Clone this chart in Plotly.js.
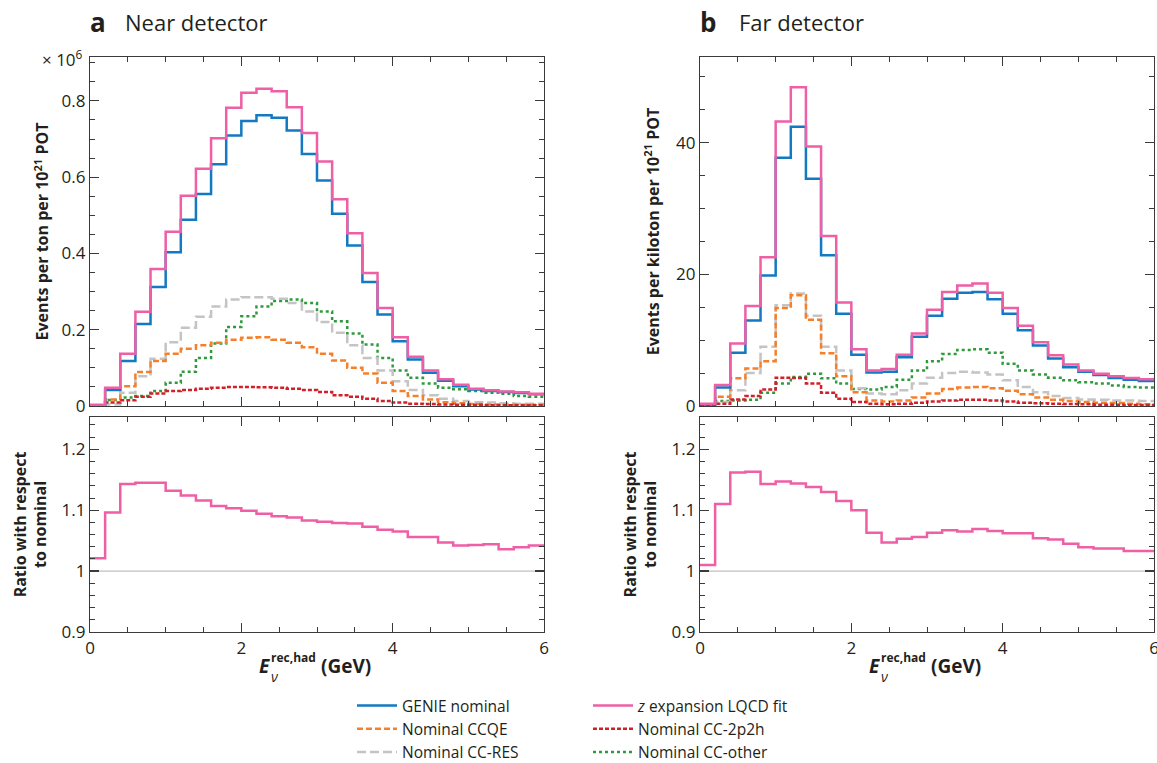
<!DOCTYPE html>
<html>
<head>
<meta charset="utf-8">
<script src="https://cdn.plot.ly/plotly-3.0.1.min.js"></script>
<style>html,body{margin:0;padding:0;background:#fff;}#chart{width:1157px;height:763px;}</style>
</head>
<body>
<div id="chart"></div>
<script>
// Bin lower edges (GeV), 0.2 GeV bins from 0 to 6
const binLow = [0.0,0.2,0.4,0.6,0.8,1.0,1.2,1.4,1.6,1.8,2.0,2.2,2.4,2.6,2.8,3.0,3.2,3.4,3.6,3.8,4.0,4.2,4.4,4.6,4.8,5.0,5.2,5.4,5.6,5.8];
const binHigh = 6.0;

// Near detector (events per ton per 1e21 POT, x 1e6)
const nearGenie = [0.002,0.042,0.118,0.215,0.312,0.403,0.488,0.556,0.634,0.709,0.747,0.762,0.756,0.722,0.661,0.591,0.504,0.421,0.325,0.240,0.170,0.122,0.087,0.066,0.052,0.043,0.039,0.037,0.034,0.031];
const nearZexp  = [0.003,0.048,0.137,0.247,0.359,0.457,0.551,0.622,0.702,0.782,0.821,0.832,0.825,0.783,0.716,0.641,0.542,0.453,0.349,0.257,0.180,0.129,0.093,0.070,0.056,0.045,0.041,0.038,0.036,0.032];
const nearCCQE  = [0.000,0.017,0.052,0.089,0.118,0.137,0.150,0.159,0.166,0.174,0.179,0.180,0.174,0.166,0.154,0.137,0.119,0.100,0.085,0.061,0.039,0.026,0.017,0.010,0.007,0.005,0.004,0.003,0.003,0.003];
const near2p2h  = [0.000,0.009,0.015,0.024,0.033,0.039,0.042,0.045,0.048,0.050,0.050,0.049,0.048,0.045,0.042,0.037,0.028,0.024,0.019,0.013,0.009,0.006,0.005,0.004,0.003,0.003,0.002,0.002,0.002,0.002];
const nearRES   = [0.000,0.004,0.035,0.078,0.124,0.167,0.205,0.234,0.261,0.279,0.285,0.285,0.281,0.270,0.248,0.220,0.192,0.159,0.126,0.093,0.065,0.042,0.028,0.019,0.013,0.010,0.009,0.007,0.006,0.006];
const nearOther = [0.000,0.016,0.022,0.026,0.039,0.061,0.090,0.126,0.164,0.207,0.235,0.261,0.275,0.279,0.270,0.248,0.222,0.190,0.161,0.126,0.093,0.074,0.059,0.048,0.044,0.039,0.035,0.032,0.026,0.024];
const nearRatio = [1.021,1.096,1.143,1.145,1.145,1.132,1.124,1.116,1.107,1.103,1.099,1.094,1.090,1.088,1.083,1.081,1.079,1.078,1.073,1.068,1.065,1.056,1.056,1.047,1.042,1.043,1.044,1.036,1.039,1.042];

// Far detector (events per kiloton per 1e21 POT)
const farGenie = [0.25,2.8,8.1,13.0,19.8,37.7,42.4,34.5,22.9,14.0,7.8,5.1,5.2,7.4,10.5,13.7,16.3,17.2,17.3,16.2,14.0,11.5,9.2,7.2,5.9,5.2,4.7,4.25,4.0,3.8];
const farZexp  = [0.35,3.2,9.5,15.2,22.6,43.2,48.4,39.4,25.8,15.7,8.6,5.4,5.6,7.8,11.0,14.6,17.3,18.3,18.6,17.2,14.9,12.2,9.7,7.7,6.3,5.4,4.9,4.5,4.25,4.05];
const farCCQE  = [0.0,1.4,4.2,5.7,6.8,14.9,16.8,13.1,8.0,4.5,2.1,0.85,0.7,0.85,1.3,1.9,2.6,2.8,2.9,2.7,2.3,1.8,1.3,0.95,0.75,0.6,0.5,0.45,0.35,0.25];
const far2p2h  = [0.1,0.35,1.0,1.5,2.5,4.3,4.25,3.4,2.0,1.1,0.6,0.35,0.25,0.35,0.5,0.7,0.85,0.95,0.95,0.85,0.7,0.5,0.4,0.35,0.3,0.25,0.2,0.2,0.15,0.15];
const farRES   = [0.1,0.6,2.4,5.0,9.0,15.3,17.1,13.7,9.0,5.4,2.7,1.9,1.8,2.4,3.4,4.3,5.0,5.2,5.1,4.8,3.9,2.9,2.1,1.5,1.2,1.0,0.95,0.85,0.85,0.75];
const farOther = [0.2,0.75,0.85,0.95,2.0,3.4,4.4,4.9,4.2,3.4,2.6,2.5,2.9,4.0,5.4,6.8,7.9,8.5,8.6,8.1,6.4,5.4,4.8,4.3,3.9,3.6,3.4,3.1,2.9,2.8];
const farRatio = [1.010,1.110,1.162,1.163,1.143,1.147,1.144,1.138,1.130,1.115,1.100,1.063,1.047,1.053,1.056,1.063,1.067,1.065,1.069,1.066,1.062,1.062,1.054,1.052,1.045,1.039,1.037,1.037,1.033,1.033];

const legendLabels = ["GENIE nominal","<i>z</i> expansion LQCD fit","Nominal CCQE","Nominal CC-2p2h","Nominal CC-RES","Nominal CC-other"];

const C = {blue:"#1279c2", pink:"#ee5fa6", orange:"#f4802c", red:"#d2202a", gray:"#c4c4c6", green:"#2f9a3c"};
const FONT = "Open Sans, Noto Sans, DejaVu Sans, sans-serif";
const W = 1157, H = 763;
const px = v => v / W;
const py = v => 1 - v / H;

function stepX() { return binLow.concat([binHigh]); }
function stepY(v) { return v.concat([v[v.length - 1]]); }

function tr(vals, xa, ya, color, dash, width, label, legend, show) {
  return {
    type: "scatter", mode: "lines", x: stepX(), y: stepY(vals),
    xaxis: xa, yaxis: ya, name: label, legend: legend, showlegend: show,
    line: {shape: "hv", color: color, dash: dash, width: width},
    hoverinfo: "x+y"
  };
}

const traces = [];
// Near detector top
traces.push(tr(nearOther, "x", "y", C.green, "dot", 2.5, legendLabels[5], "legend2", true));
traces.push(tr(nearRES, "x", "y", C.gray, "9px,4px", 2.5, legendLabels[4], "legend", true));
traces.push(tr(nearCCQE, "x", "y", C.orange, "6px,3px", 2.5, legendLabels[2], "legend", true));
traces.push(tr(near2p2h, "x", "y", C.red, "4px,2px", 2.5, legendLabels[3], "legend2", true));
traces.push(tr(nearGenie, "x", "y", C.blue, "solid", 2.5, legendLabels[0], "legend", true));
traces.push(tr(nearZexp, "x", "y", C.pink, "solid", 2.5, legendLabels[1], "legend2", true));
// Near ratio
traces.push(tr(nearRatio, "x2", "y2", C.pink, "solid", 2.5, "Ratio (near)", "legend", false));
// Far detector top
traces.push(tr(farOther, "x3", "y3", C.green, "dot", 2.5, legendLabels[5], "legend2", false));
traces.push(tr(farRES, "x3", "y3", C.gray, "9px,4px", 2.5, legendLabels[4], "legend", false));
traces.push(tr(farCCQE, "x3", "y3", C.orange, "6px,3px", 2.5, legendLabels[2], "legend", false));
traces.push(tr(far2p2h, "x3", "y3", C.red, "4px,2px", 2.5, legendLabels[3], "legend2", false));
traces.push(tr(farGenie, "x3", "y3", C.blue, "solid", 2.5, legendLabels[0], "legend", false));
traces.push(tr(farZexp, "x3", "y3", C.pink, "solid", 2.5, legendLabels[1], "legend2", false));
// Far ratio
traces.push(tr(farRatio, "x4", "y4", C.pink, "solid", 2.5, "Ratio (far)", "legend", false));

const axisCol = "#3a3a3a";
function xax(domain, anchor, showLabels) {
  return {
    domain: domain, anchor: anchor, range: [0, 6], dtick: 2, tick0: 0,
    ticks: "inside", ticklen: 9, tickwidth: 1.2, tickcolor: axisCol,
    minor: {dtick: 0.5, ticks: "inside", ticklen: 5, tickcolor: axisCol, tickwidth: 1},
    showline: true, linecolor: axisCol, linewidth: 1.2, mirror: "ticks",
    showgrid: false, zeroline: false, showticklabels: showLabels,
    ticklabeloverflow: "allow",
    tickfont: {family: FONT, size: 17, color: "#231f20"}, automargin: false
  };
}
function yax(domain, anchor, range, dtick, minorDtick, title, standoff) {
  return {
    domain: domain, anchor: anchor, range: range, dtick: dtick,
    ticks: "inside", ticklen: 9, tickwidth: 1.2, tickcolor: axisCol,
    minor: {dtick: minorDtick, ticks: "inside", ticklen: 5, tickcolor: axisCol, tickwidth: 1},
    showline: true, linecolor: axisCol, linewidth: 1.2, mirror: "ticks",
    showgrid: false, zeroline: false,
    tickfont: {family: FONT, size: 17, color: "#231f20"},
    title: {text: title, font: {family: FONT, size: 16, color: "#231f20", weight: "bold"}, standoff: standoff},
    automargin: false
  };
}

const xL = [px(90), px(544)], xR = [px(700), px(1154)];
const yTop = [py(406), py(57)], yBot = [py(632), py(417)];

const layout = {
  width: W, height: H,
  margin: {l: 0, r: 0, t: 0, b: 0, autoexpand: false},
  paper_bgcolor: "#fff", plot_bgcolor: "#fff",
  font: {family: FONT, color: "#231f20"},
  showlegend: true,
  xaxis: xax(xL, "y", false),
  yaxis: Object.assign(yax(yTop, "x", [0, 0.915], 0.2, 0.05, "<b>Events per ton per 10<sup>21</sup> POT</b>", 8), {tickvals: [0, 0.2, 0.4, 0.6, 0.8], ticktext: ["0", "0.2", "0.4", "0.6", "0.8"]}),
  xaxis2: Object.assign(xax(xL, "y2", true), {matches: "x"}),
  yaxis2: Object.assign(yax(yBot, "x2", [0.9, 1.253], 0.1, 0.02, "<b>Ratio with respect<br>to nominal</b>", 10), {tickvals: [0.9, 1.0, 1.1, 1.2], ticktext: ["0.9", "1", "1.1", "1.2"]}),
  xaxis3: xax(xR, "y3", false),
  yaxis3: yax(yTop, "x3", [0, 53], 20, 5, "<b>Events per kiloton per 10<sup>21</sup> POT</b>", 12),
  xaxis4: Object.assign(xax(xR, "y4", true), {matches: "x3"}),
  yaxis4: Object.assign(yax(yBot, "x4", [0.9, 1.253], 0.1, 0.02, "<b>Ratio with respect<br>to nominal</b>", 10), {tickvals: [0.9, 1.0, 1.1, 1.2], ticktext: ["0.9", "1", "1.1", "1.2"]}),
  legend: {x: px(352), y: py(689), xanchor: "left", yanchor: "top", bgcolor: "rgba(0,0,0,0)",
           font: {family: FONT, size: 15.5, color: "#231f20"}, tracegroupgap: 0, itemwidth: 40, traceorder: "reversed"},
  legend2: {x: px(588), y: py(689), xanchor: "left", yanchor: "top", bgcolor: "rgba(0,0,0,0)",
           font: {family: FONT, size: 15.5, color: "#231f20"}, tracegroupgap: 0, itemwidth: 40, traceorder: "reversed"},
  shapes: [
    {type: "line", xref: "x2 domain", yref: "y2", x0: 0, x1: 1, y0: 1, y1: 1, line: {color: "#b0b0b0", width: 1}, layer: "below"},
    {type: "line", xref: "x4 domain", yref: "y4", x0: 0, x1: 1, y0: 1, y1: 1, line: {color: "#b0b0b0", width: 1}, layer: "below"}
  ],
  annotations: []
};

const A = layout.annotations;
function ann(text, x, y, size, xanchor) {
  A.push({text: text, xref: "paper", yref: "paper", x: px(x), y: py(y), xanchor: xanchor || "left", yanchor: "middle",
    showarrow: false, font: {family: FONT, size: size, color: "#231f20"}});
}
// Panel titles
ann("<b>a</b>", 88, 22, 26);
ann("Near detector", 123, 22, 22);
ann("<b>b</b>", 698, 22, 26);
ann("Far detector", 737, 22, 22);
// Multiplier
ann("× 10<sup>6</sup>", 85, 59, 17, "right");
// x axis titles
[0, 610].forEach(function (dx) {
  ann("<b><i>E</i></b>", 257 + dx, 666, 19);
  ann("<b>rec,had</b>", 269 + dx, 657, 12);
  ann("<i>ν</i>", 269 + dx, 676, 14);
  ann("<b>(GeV)</b>", 319 + dx, 666, 19);
});

Plotly.newPlot("chart", traces, layout, {displayModeBar: false, staticPlot: true});
</script>
</body>
</html>
